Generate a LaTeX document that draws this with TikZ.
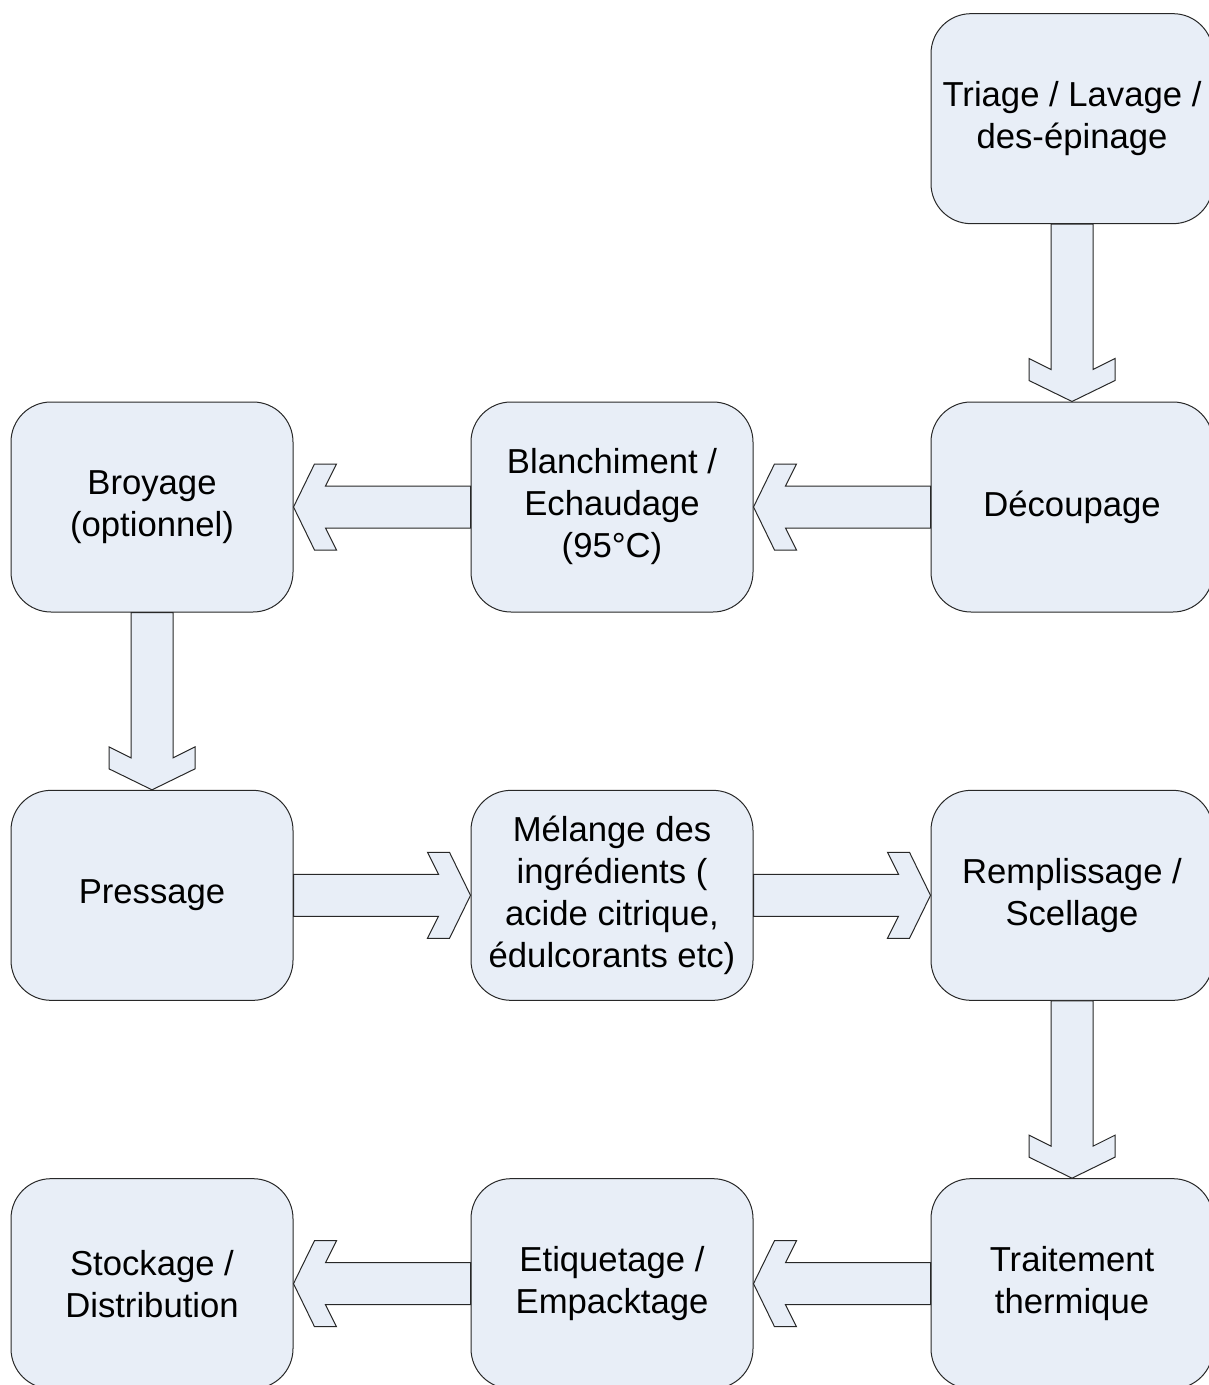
\documentclass[tikz,border=0pt]{standalone}
\usepackage{fontspec}
\setmainfont{Liberation Sans}
\usetikzlibrary{positioning,calc}

\definecolor{boxfill}{RGB}{232,238,247}
\definecolor{boxline}{RGB}{40,40,40}

% block arrow from #1 to #2, pointing at angle #3
\newcommand{\blockarrow}[3]{%
  \draw [flowarrow] let \p1=($(#1)-(#2)$), \n1={veclen(\x1,\y1)} in
    [shift={(#2)}, rotate=#3] (0,0) -- (-15.75pt,32.25pt) -- (-32.25pt,32.25pt) -- (-24pt,15.75pt)
    -- ({-\n1},15.75pt) -- ({-\n1},-15.75pt) -- (-24pt,-15.75pt) -- (-32.25pt,-32.25pt)
    -- (-15.75pt,-32.25pt) -- cycle;
}

\begin{document}
\begin{tikzpicture}[
  stepbox/.style={draw=boxline, fill=boxfill, line width=0.75pt, rounded corners=30pt,
    minimum width=211.5pt, minimum height=157.5pt, align=center, inner sep=0pt,
    font=\fontsize{26pt}{31.5pt}\selectfont},
  flowarrow/.style={draw=boxline, fill=boxfill, line width=0.75pt, line join=miter},
  node distance=133pt and 132.75pt
]

\useasboundingbox (0,0) rectangle (906pt,-1038.75pt);

% Process steps
\node [stepbox] (triage) at (804pt,-89pt) {Triage / Lavage /\\des-épinage};
\node [stepbox, below=of triage] (decoupage) {Découpage};
\node [stepbox, left=of decoupage] (blanchiment) {Blanchiment /\\Echaudage\\(95°C)};
\node [stepbox, left=of blanchiment] (broyage) {Broyage\\(optionnel)};
\node [stepbox, below=of broyage] (pressage) {Pressage};
\node [stepbox, right=of pressage] (melange) {Mélange des\\ingrédients (\\acide citrique,\\édulcorants etc)};
\node [stepbox, right=of melange] (remplissage) {Remplissage /\\Scellage};
\node [stepbox, below=of remplissage] (traitement) {Traitement\\thermique};
\node [stepbox, left=of traitement] (etiquetage) {Etiquetage /\\Empacktage};
\node [stepbox, left=of etiquetage] (stockage) {Stockage /\\Distribution};

% Block arrows
\blockarrow{triage.south}{decoupage.north}{-90}
\blockarrow{decoupage.west}{blanchiment.east}{180}
\blockarrow{blanchiment.west}{broyage.east}{180}
\blockarrow{broyage.south}{pressage.north}{-90}
\blockarrow{pressage.east}{melange.west}{0}
\blockarrow{melange.east}{remplissage.west}{0}
\blockarrow{remplissage.south}{traitement.north}{-90}
\blockarrow{traitement.west}{etiquetage.east}{180}
\blockarrow{etiquetage.west}{stockage.east}{180}

\end{tikzpicture}
\end{document}
